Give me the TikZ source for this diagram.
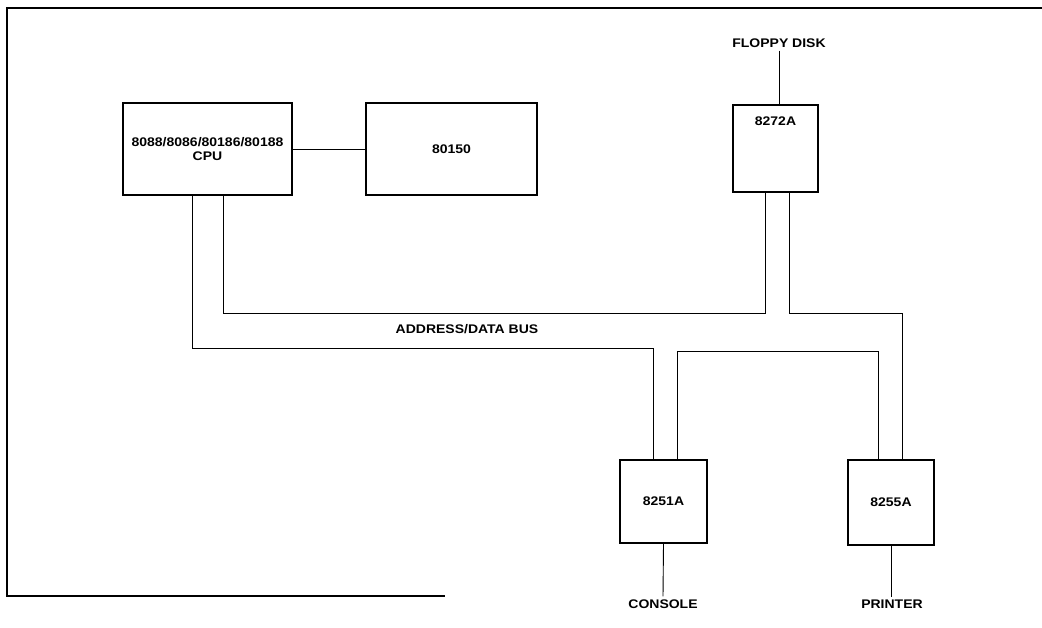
\documentclass[tikz,border=0pt]{standalone}
\usepackage{fontspec}
\setmainfont[FakeStretch=1.12]{Liberation Sans}
\usepackage{tikz}
\usetikzlibrary{calc, positioning}

\begin{document}
\begin{tikzpicture}[x=1pt, y=-1pt,
    chip/.style={draw, line width=1.5pt, inner sep=0pt, align=center,
                 font=\bfseries\fontsize{12.5}{14.5}\selectfont},
    bus/.style={line width=0.9pt},
    tag/.style={font=\bfseries\fontsize{12.5}{14.5}\selectfont, inner sep=3pt},
    frame/.style={line width=1.5pt}]

    % =================================================================
    % 1. PAGE SIZE AND OUTER FRAME
    % =================================================================
    \useasboundingbox (0,0) rectangle (1042,628);
    \draw[frame] (1042,8) -- (7,8) -- (7,596) -- (445,596);

    % =================================================================
    % 2. THE CHIPS
    % =================================================================
    \node[chip, minimum width=169, minimum height=92] (cpu) at (207.5,149)
        {8088/8086/80186/80188\\CPU};
    \node[chip, minimum width=171, minimum height=92] (clk) at (451.5,149) {80150};
    \node[chip, minimum width=85, minimum height=87,
          label={[anchor=center, yshift=-17pt, font=\bfseries\fontsize{12.5}{14.5}\selectfont]north:8272A}]
        (fdc) at (775.5,148.5) {};
    \node[chip, minimum width=87, minimum height=83] (usart) at (663.5,501.5) {8251A};
    \node[chip, minimum width=86, minimum height=85] (ppi) at (891,502.5) {8255A};

    % Outside devices
    \node[tag] (floppy) at (779,43) {FLOPPY DISK};
    \node[tag] (console) at (663,604) {CONSOLE};
    \node[tag] (printer) at (892,604) {PRINTER};

    % =================================================================
    % 3. BUS TAPS ON EACH CHIP
    % =================================================================
    \coordinate (cpuA) at ([xshift=-15.5pt]cpu.south);
    \coordinate (cpuB) at ([xshift=15.5pt]cpu.south);
    \coordinate (fdcA) at ([xshift=-10.5pt]fdc.south);
    \coordinate (fdcB) at ([xshift=13.5pt]fdc.south);
    \coordinate (usartA) at ([xshift=-10.5pt]usart.north);
    \coordinate (usartB) at ([xshift=13.5pt]usart.north);
    \coordinate (ppiA) at ([xshift=-13pt]ppi.north);
    \coordinate (ppiB) at ([xshift=11pt]ppi.north);

    % =================================================================
    % 4. ADDRESS/DATA BUS
    % =================================================================
    \draw[bus] (cpuB) -- ++(0,118) -| (fdcA);
    \draw[bus] (fdcB) -- ++(0,121) -| (ppiB);
    \draw[bus] (cpuA) -- ++(0,153) -| (usartA);
    \draw[bus] (usartB) -- ++(0,-108) -| (ppiA);
    \node[tag] (busname) at (467,329) {ADDRESS/DATA BUS};

    % =================================================================
    % 5. OTHER LINKS
    % =================================================================
    \draw[bus] (cpu.east) -- (clk.west);
    \draw[bus] (floppy.south) -- (floppy.south |- fdc.north);
    \draw[bus] (usart.south) -- (console.north);
    \draw[bus] (ppi.south) -- (ppi.south |- printer.north);

\end{tikzpicture}
\end{document}
